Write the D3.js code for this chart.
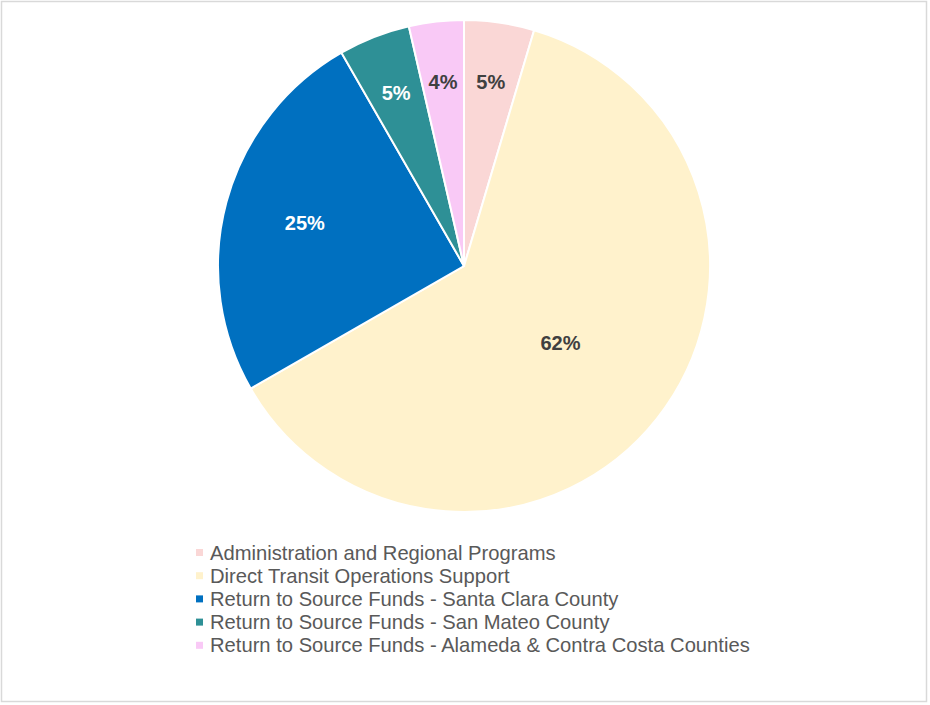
<!DOCTYPE html>
<html>
<head>
<meta charset="utf-8">
<script src="https://cdn.jsdelivr.net/npm/d3@7"></script>
<style>
  body { margin: 0; background: #fff; }
  svg { display: block; font-family: "Liberation Sans", Arial, sans-serif; }
</style>
</head>
<body>
<svg width="930" height="705"></svg>
<script>
const categories = [
    "Administration and Regional Programs",
    "Direct Transit Operations Support",
    "Return to Source Funds - Santa Clara County",
    "Return to Source Funds - San Mateo County",
    "Return to Source Funds - Alameda & Contra Costa Counties"
];
const values = [4.6, 62.1, 25.0, 4.7, 3.6];
const colors = ["#FAD7D6", "#FFF2CC", "#0070C0", "#2E9096", "#F9C9F6"];
const labelColors = ["#404040", "#404040", "#ffffff", "#ffffff", "#404040"];

const svg = d3.select("svg");

// chart border
svg.append("rect")
    .attr("x", 1.5).attr("y", 1.5)
    .attr("width", 925).attr("height", 700)
    .attr("fill", "none")
    .attr("stroke", "#d9d9d9")
    .attr("stroke-width", 1.5);

const cx = 464, cy = 266, radius = 246;

const data = categories.map((c, i) => ({ name: c, value: values[i], i }));

const pie = d3.pie().sort(null).value(d => d.value);
const arc = d3.arc().innerRadius(0).outerRadius(radius);
const arcs = pie(data);

const g = svg.append("g").attr("transform", `translate(${cx},${cy})`);

g.selectAll("path")
    .data(arcs)
    .join("path")
    .attr("d", arc)
    .attr("fill", d => colors[d.data.i])
    .attr("stroke", "#fff")
    .attr("stroke-width", 2);

// label distance from centre depends on slice size
const labelR = v => v > 50 ? 0.5 * radius : v > 10 ? 0.67 * radius : 0.755 * radius;

g.selectAll("text.lbl")
    .data(arcs)
    .join("text")
    .attr("class", "lbl")
    .attr("transform", d => {
        const r = labelR(d.data.value);
        const a = (d.startAngle + d.endAngle) / 2;
        return `translate(${Math.sin(a) * r},${-Math.cos(a) * r})`;
    })
    .attr("text-anchor", "middle")
    .attr("dy", "0.36em")
    .attr("font-size", 20)
    .attr("font-weight", "bold")
    .attr("fill", d => labelColors[d.data.i])
    .text(d => Math.round(d.data.value) + "%");

// legend
const legend = svg.append("g").attr("transform", "translate(196,552.5)");
const rowH = 23.2;

categories.forEach((c, i) => {
    legend.append("rect")
        .attr("x", 0)
        .attr("y", i * rowH - 3.5)
        .attr("width", 7)
        .attr("height", 7)
        .attr("fill", colors[i]);
    legend.append("text")
        .attr("x", 14)
        .attr("y", i * rowH)
        .attr("dy", "0.35em")
        .attr("font-size", 20.2)
        .attr("fill", "#595959")
        .text(c);
});
</script>
</body>
</html>
